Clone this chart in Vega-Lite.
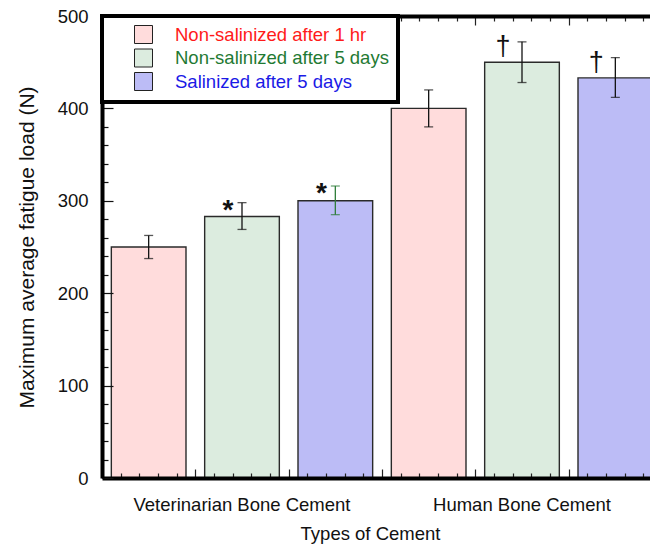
{
  "$schema": "https://vega.github.io/schema/vega-lite/v6.json",
  "width": 548,
  "height": 462,
  "autosize": {"type": "none"},
  "padding": {"left": 102, "top": 16, "right": 0, "bottom": 66},
  "background": "white",
  "config": {
    "font": "Liberation Sans",
    "view": {"stroke": null},
    "axis": {"grid": false, "labelFont": "Liberation Sans", "titleFont": "Liberation Sans"},
    "legend": {"labelFont": "Liberation Sans"}
  },
  "data": {
    "values": [
      {"cement": "Veterinarian Bone Cement", "condition": "Non-salinized after 1 hr", "load": 250, "low": 237.5, "high": 262.5, "note": ""},
      {"cement": "Veterinarian Bone Cement", "condition": "Non-salinized after 5 days", "load": 283, "low": 269, "high": 298, "note": "*"},
      {"cement": "Veterinarian Bone Cement", "condition": "Salinized after 5 days", "load": 300, "low": 285, "high": 316, "note": "*"},
      {"cement": "Human Bone Cement", "condition": "Non-salinized after 1 hr", "load": 400, "low": 380, "high": 420, "note": ""},
      {"cement": "Human Bone Cement", "condition": "Non-salinized after 5 days", "load": 450, "low": 428, "high": 472, "note": "†"},
      {"cement": "Human Bone Cement", "condition": "Salinized after 5 days", "load": 433, "low": 412, "high": 455, "note": "†"}
    ]
  },
  "layer": [
    {
      "encoding": {
        "x": {
          "field": "cement",
          "type": "nominal",
          "sort": ["Veterinarian Bone Cement", "Human Bone Cement"],
          "scale": {"range": [0, 560], "paddingInner": 0, "paddingOuter": 0},
          "axis": {
            "orient": "bottom",
            "domain": false,
            "ticks": false,
            "labelAngle": 0,
            "labelFontSize": 18.5,
            "labelColor": "#111",
            "labelPadding": 17,
            "labelLimit": 400,
            "title": "Types of Cement",
            "titleFontSize": 18.5,
            "titleFontWeight": "normal",
            "titleColor": "#111",
            "titlePadding": 11,
            "titleX": 268
          }
        },
        "xOffset": {
          "field": "condition",
          "type": "nominal",
          "sort": ["Non-salinized after 1 hr", "Non-salinized after 5 days", "Salinized after 5 days"],
          "scale": {"paddingInner": 0.2, "paddingOuter": 0.1}
        }
      },
      "layer": [
        {
          "mark": {"type": "bar", "stroke": "#2a2a2a", "strokeWidth": 1.4},
          "encoding": {
            "y": {
              "field": "load",
              "type": "quantitative",
              "scale": {"domain": [0, 500], "nice": false},
              "axis": {
                "orient": "left",
                "values": [0, 20, 40, 60, 80, 100, 120, 140, 160, 180, 200, 220, 240, 260, 280, 300, 320, 340, 360, 380, 400, 420, 440, 460, 480, 500],
                "tickCount": 60,
                "labelExpr": "datum.value % 100 === 0 ? datum.label : ''",
                "labelOverlap": false,
                "tickSize": {"condition": {"test": "datum.value % 100 === 0", "value": -11}, "value": -6},
                "tickColor": "#111",
                "tickWidth": 1.2,
                "domainColor": "black",
                "domainWidth": 4,
                "labelFontSize": 18.5,
                "labelColor": "#111",
                "labelPadding": 25,
                "title": "Maximum average fatigue load (N)",
                "titleFontSize": 21,
                "titleFontWeight": "normal",
                "titleColor": "#111",
                "titlePadding": 20,
                "zindex": 1
              }
            },
            "fill": {
              "field": "condition",
              "type": "nominal",
              "scale": {
                "domain": ["Non-salinized after 1 hr", "Non-salinized after 5 days", "Salinized after 5 days"],
                "range": ["#ffdcdc", "#dcecdf", "#bcbcf6"]
              },
              "legend": {
                "orient": "none",
                "legendX": 0,
                "legendY": 0,
                "title": null,
                "fillColor": "white",
                "strokeColor": "black",
                "padding": 9,
                "symbolType": "square",
                "symbolSize": 324,
                "symbolStrokeColor": "#222",
                "symbolStrokeWidth": 1,
                "symbolOffset": 23,
                "labelOffset": 22,
                "labelFontSize": 18.5,
                "labelLimit": 400,
                "rowPadding": 0.5,
                "zindex": 2,
                "encode": {
                  "legend": {"update": {"strokeWidth": {"value": 4}}},
                  "labels": {"update": {"fill": {"signal": "datum.value === 'Non-salinized after 1 hr' ? '#ff1a1a' : datum.value === 'Non-salinized after 5 days' ? '#1f7a33' : '#1a1ae6'"}}}
                }
              }
            }
          }
        },
        {
          "mark": {"type": "rule", "strokeWidth": 1.3},
          "encoding": {
            "y": {"field": "low", "type": "quantitative"},
            "y2": {"field": "high"},
            "color": {"condition": {"test": "datum.cement === 'Veterinarian Bone Cement' && datum.condition === 'Salinized after 5 days'", "value": "#2e7d3a"}, "value": "#111"}
          }
        },
        {
          "mark": {"type": "tick", "size": 9, "thickness": 1.3},
          "encoding": {
            "y": {"field": "low", "type": "quantitative"},
            "color": {"condition": {"test": "datum.cement === 'Veterinarian Bone Cement' && datum.condition === 'Salinized after 5 days'", "value": "#2e7d3a"}, "value": "#111"}
          }
        },
        {
          "mark": {"type": "tick", "size": 9, "thickness": 1.3},
          "encoding": {
            "y": {"field": "high", "type": "quantitative"},
            "color": {"condition": {"test": "datum.cement === 'Veterinarian Bone Cement' && datum.condition === 'Salinized after 5 days'", "value": "#2e7d3a"}, "value": "#111"}
          }
        },
        {
          "transform": [{"filter": "datum.note === '*'"}],
          "mark": {"type": "text", "fontSize": 28, "fontWeight": "bold", "baseline": "middle", "dx": -14, "dy": 8, "color": "#111"},
          "encoding": {
            "y": {"field": "high", "type": "quantitative"},
            "text": {"field": "note"}
          }
        },
        {
          "transform": [{"filter": "datum.note === '†'"}],
          "mark": {"type": "text", "fontSize": 27, "baseline": "middle", "dx": -19, "dy": 5, "color": "#111"},
          "encoding": {
            "y": {"field": "high", "type": "quantitative"},
            "text": {"field": "note"}
          }
        }
      ]
    },
    {
      "mark": {"type": "point", "opacity": 0},
      "encoding": {
        "x": {
          "datum": 0,
          "type": "quantitative",
          "scale": {"domain": [0, 30], "range": [0, 560], "nice": false, "zero": false},
          "axis": {
            "orient": "bottom",
            "values": [0, 1, 2, 3, 4, 5, 6, 7, 8, 9, 10, 11, 12, 13, 14, 15, 16, 17, 18, 19, 20, 21, 22, 23, 24, 25, 26, 27, 28, 29, 30],
            "tickCount": 60,
            "labels": false,
            "labelOverlap": false,
            "title": null,
            "domainColor": "black",
            "domainWidth": 4,
            "tickColor": "#222",
            "tickWidth": 1.2,
            "tickSize": {"condition": {"test": "datum.value % 5 === 0", "value": -9}, "value": -5},
            "zindex": 1
          }
        }
      }
    },
    {
      "mark": {"type": "point", "opacity": 0},
      "encoding": {
        "x": {
          "datum": 0,
          "type": "quantitative",
          "scale": {"domain": [0, 30], "range": [0, 560], "nice": false, "zero": false},
          "axis": {
            "orient": "top",
            "values": [0, 1, 2, 3, 4, 5, 6, 7, 8, 9, 10, 11, 12, 13, 14, 15, 16, 17, 18, 19, 20, 21, 22, 23, 24, 25, 26, 27, 28, 29, 30],
            "tickCount": 60,
            "labels": false,
            "labelOverlap": false,
            "title": null,
            "domainColor": "black",
            "domainWidth": 4,
            "tickColor": "#222",
            "tickWidth": 1.2,
            "tickSize": {"condition": {"test": "datum.value % 5 === 0", "value": -9}, "value": -5},
            "zindex": 1
          }
        }
      }
    }
  ],
  "resolve": {"scale": {"x": "independent"}, "axis": {"x": "independent"}}
}
